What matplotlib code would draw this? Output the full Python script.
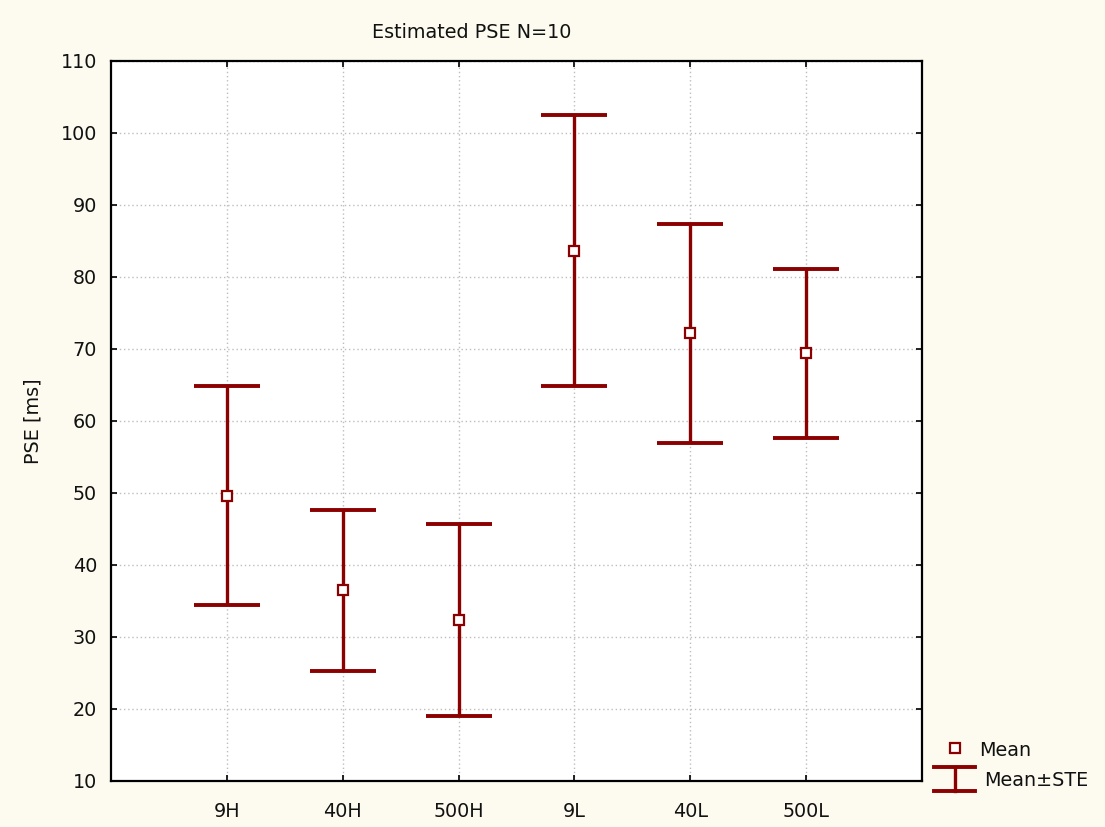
import matplotlib
matplotlib.use("Agg")
import matplotlib.pyplot as plt
from matplotlib.lines import Line2D
import numpy as np

categories = ["9H", "40H", "500H", "9L", "40L", "500L"]
means = [49.6, 36.5, 32.4, 83.6, 72.2, 69.5]
upper = [64.9, 47.7, 45.7, 102.5, 87.3, 81.1]
lower = [34.5, 25.3, 19.0, 64.8, 56.9, 57.7]
yticks = [10, 20, 30, 40, 50, 60, 70, 80, 90, 100, 110]

RED = "#8B0000"
BG = "#FDFAEF"
TXT = "#111111"
FS = 13.8

plt.rcParams["font.family"] = ["DejaVu Sans"]

fig = plt.figure(figsize=(11.05, 8.27), dpi=100, facecolor=BG)
ax = fig.add_axes([111 / 1105, 1 - 781 / 827, (922 - 111) / 1105, (781 - 61) / 827])
ax.set_facecolor("white")

x = np.arange(1, len(categories) + 1)
m = np.array(means)
yerr = np.vstack([m - np.array(lower), np.array(upper) - m])
ax.errorbar(x, m, yerr=yerr, fmt="none", ecolor=RED, elinewidth=2.4,
            capsize=23.5, capthick=2.8, zorder=3)
ax.plot(x, m, linestyle="none", marker="s", markersize=7.5,
        markerfacecolor="white", markeredgecolor=RED, markeredgewidth=1.6, zorder=4)

ax.set_xlim(0, 7)
ax.set_ylim(10, 110)
ax.set_xticks(x)
ax.set_xticklabels(categories)
ax.set_yticks(yticks)

ax.grid(True, color="#BDBDBD", linestyle=(0, (1, 2)), linewidth=1.0)
ax.set_axisbelow(True)

for s in ax.spines.values():
    s.set_linewidth(1.6)
    s.set_color("black")

ax.tick_params(axis="both", direction="in", length=4, width=1.3,
               top=True, right=True, labelsize=FS, colors=TXT)
ax.tick_params(axis="x", pad=15)
ax.tick_params(axis="y", pad=10)

ax.set_ylabel("PSE [ms]", fontsize=FS, color=TXT)
ax.yaxis.set_label_coords(-0.085, 0.5)

fig.text(472 / 1105, 1 - 32 / 827, "Estimated PSE N=10", ha="center", va="center",
         fontsize=FS, color=TXT)

# legend (manual)
def fx(px):
    return px / 1105

def fy(py):
    return 1 - py / 827

fig.add_artist(Line2D([fx(955)], [fy(748)], transform=fig.transFigure, linestyle="none",
                      marker="s", markersize=7, markerfacecolor="white",
                      markeredgecolor=RED, markeredgewidth=1.6))
fig.text(fx(979), fy(750), "Mean", ha="left", va="center", fontsize=FS, color=TXT)
fig.add_artist(Line2D([fx(934), fx(975)], [fy(767), fy(767)], transform=fig.transFigure,
                      color=RED, linewidth=2.8))
fig.add_artist(Line2D([fx(934), fx(975)], [fy(791), fy(791)], transform=fig.transFigure,
                      color=RED, linewidth=2.8))
fig.add_artist(Line2D([fx(955), fx(955)], [fy(767), fy(791)], transform=fig.transFigure,
                      color=RED, linewidth=2.4))
fig.text(fx(984), fy(780), "Mean±STE", ha="left", va="center", fontsize=FS, color=TXT)

fig.savefig("out.png", dpi=100, facecolor=BG)
